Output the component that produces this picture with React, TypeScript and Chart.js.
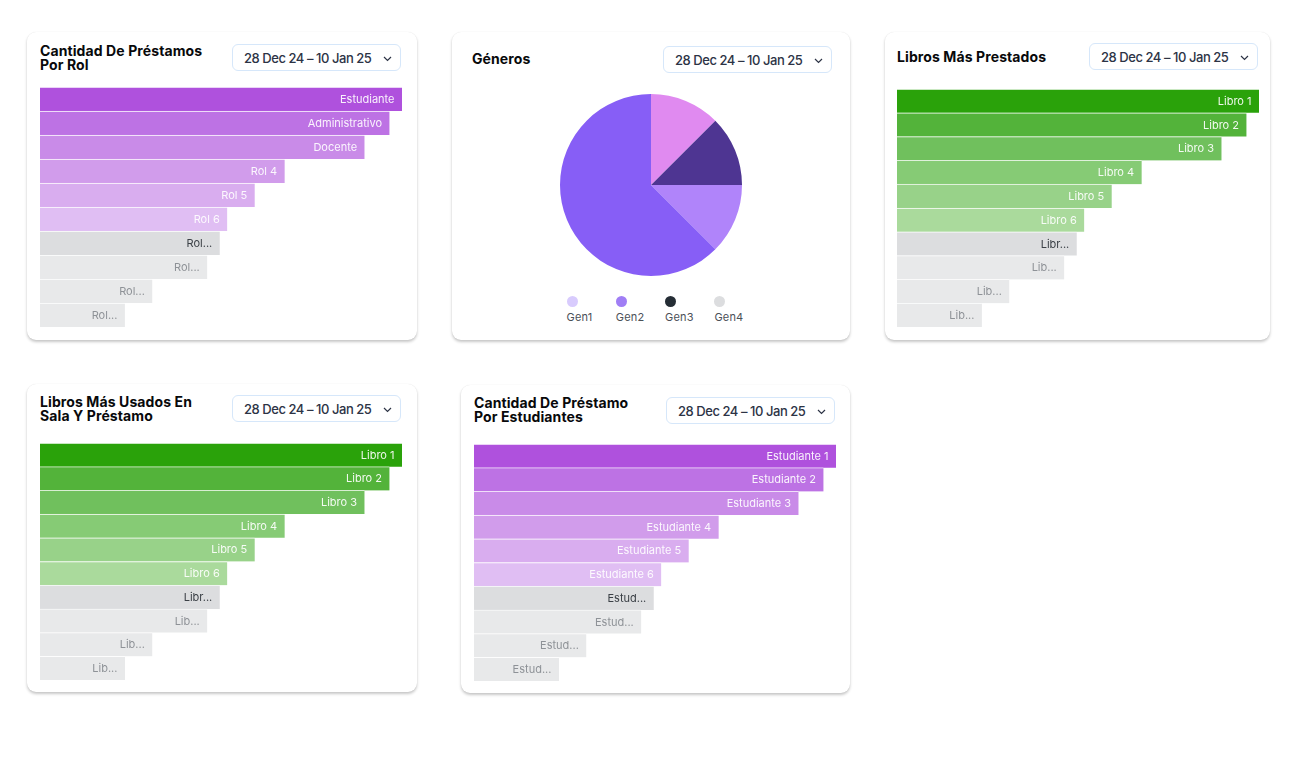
import React, { useEffect, useRef } from "react";
import { Chart, registerables } from "chart.js";

Chart.register(...registerables);

const DATE_RANGE = "28 Dec 24 – 10 Jan 25";

// Cantidad De Préstamos Por Rol
const rolLabels = ["Estudiante", "Administrativo", "Docente", "Rol 4", "Rol 5", "Rol 6", "Rol...", "Rol...", "Rol...", "Rol..."];
const rolValues = [145, 140, 130, 98, 86, 75, 72, 67, 45, 34];

// Libros Más Prestados
const prestadosLabels = ["Libro 1", "Libro 2", "Libro 3", "Libro 4", "Libro 5", "Libro 6", "Libr...", "Lib...", "Lib...", "Lib..."];
const prestadosValues = [145, 140, 130, 98, 86, 75, 72, 67, 45, 34];

// Libros Más Usados En Sala Y Préstamo
const salaLabels = ["Libro 1", "Libro 2", "Libro 3", "Libro 4", "Libro 5", "Libro 6", "Libr...", "Lib...", "Lib...", "Lib..."];
const salaValues = [145, 140, 130, 98, 86, 75, 72, 67, 45, 34];

// Cantidad De Préstamo Por Estudiantes
const estudiantesLabels = ["Estudiante 1", "Estudiante 2", "Estudiante 3", "Estudiante 4", "Estudiante 5", "Estudiante 6", "Estud...", "Estud...", "Estud...", "Estud..."];
const estudiantesValues = [145, 140, 130, 98, 86, 75, 72, 67, 45, 34];

// Géneros
const generoLabels = ["Gen1", "Gen2", "Gen3", "Gen4"];
const generoValues = [10, 10, 10, 50];
const generoSliceColors = ["#E08AF0", "#4E3592", "#B084FA", "#875EF6"];
const generoLegendColors = ["#D8CBFD", "#A07EF5", "#252D35", "#DCDDDF"];

const purpleColors = ["#AF51DD", "#BD72E4", "#C98BE8", "#D19CEB", "#D9ADEF", "#E0BEF3", "#DCDDDF", "#E8E9EA", "#E8E9EA", "#E8E9EA"];
const greenColors = ["#2AA20A", "#53B33A", "#70C05D", "#86CB75", "#98D289", "#AADA9C", "#DCDDDF", "#E8E9EA", "#E8E9EA", "#E8E9EA"];
const labelColors = [
  "rgba(255,255,255,0.92)", "rgba(255,255,255,0.92)", "rgba(255,255,255,0.92)",
  "rgba(255,255,255,0.92)", "rgba(255,255,255,0.92)", "rgba(255,255,255,0.92)",
  "#3B4046", "#8E9297", "#8E9297", "#8E9297",
];

const FONT = "Inter, 'Noto Sans', sans-serif";

function HBar(props: { labels: string[]; values: number[]; colors: string[]; left: number; top: number; width: number; height: number }) {
  const ref = useRef<HTMLCanvasElement | null>(null);
  useEffect(() => {
    const max = Math.max(...props.values);
    const labelPlugin = {
      id: "barLabels",
      afterDatasetsDraw(chart: any) {
        const ctx = chart.ctx;
        const meta = chart.getDatasetMeta(0);
        ctx.save();
        ctx.font = "11px " + FONT;
        ctx.textAlign = "right";
        ctx.textBaseline = "middle";
        meta.data.forEach((bar: any, i: number) => {
          ctx.fillStyle = labelColors[i];
          ctx.fillText(String(chart.data.labels[i]), bar.x - 7.5, bar.y + 0.5);
        });
        ctx.restore();
      },
    };
    const chart = new Chart(ref.current as HTMLCanvasElement, {
      type: "bar",
      data: {
        labels: props.labels,
        datasets: [
          {
            data: props.values,
            backgroundColor: props.colors,
            borderColor: "rgba(255,255,255,0.4)",
            borderWidth: { top: 1, right: 0, bottom: 0, left: 0 },
            borderSkipped: false,
            categoryPercentage: 1,
            barPercentage: 1,
          } as any,
        ],
      },
      options: {
        indexAxis: "y",
        animation: false,
        responsive: false,
        layout: { padding: 0 },
        plugins: { legend: { display: false }, tooltip: { enabled: false } },
        scales: {
          x: { display: false, min: 0, max },
          y: { display: false },
        },
      },
      plugins: [labelPlugin],
    });
    return () => chart.destroy();
  }, []);
  return (
    <canvas
      ref={ref}
      width={props.width}
      height={props.height}
      style={{ position: "absolute", left: props.left, top: props.top, width: props.width, height: props.height }}
    />
  );
}

function Pie(props: { left: number; top: number; size: number }) {
  const ref = useRef<HTMLCanvasElement | null>(null);
  useEffect(() => {
    const chart = new Chart(ref.current as HTMLCanvasElement, {
      type: "pie",
      data: {
        labels: generoLabels,
        datasets: [{ data: generoValues, backgroundColor: generoSliceColors, borderWidth: 0 }],
      },
      options: {
        animation: false,
        responsive: false,
        layout: { padding: 0 },
        plugins: { legend: { display: false }, tooltip: { enabled: false } },
      },
    });
    return () => chart.destroy();
  }, []);
  return (
    <canvas
      ref={ref}
      width={props.size}
      height={props.size}
      style={{ position: "absolute", left: props.left, top: props.top, width: props.size, height: props.size }}
    />
  );
}

function Card(props: { left: number; top: number; width: number; height: number }) {
  return (
    <div
      style={{
        position: "absolute",
        left: props.left,
        top: props.top,
        width: props.width,
        height: props.height,
        background: "#fff",
        borderRadius: 9,
        boxShadow: "0 2px 3px rgba(0,0,0,0.22), 0 0 1px rgba(0,0,0,0.10)",
      }}
    />
  );
}

function Title(props: { left: number; top: number; lines: string[] }) {
  return (
    <div
      style={{
        position: "absolute",
        left: props.left,
        top: props.top,
        fontFamily: FONT,
        fontWeight: 700,
        fontSize: 14,
        lineHeight: "14px",
        color: "#08090B",
        letterSpacing: "0.1px",
        whiteSpace: "nowrap",
      }}
    >
      {props.lines.map((l, i) => (
        <div key={i}>{l}</div>
      ))}
    </div>
  );
}

function Picker(props: { left: number; top: number }) {
  return (
    <div
      style={{
        position: "absolute",
        left: props.left,
        top: props.top,
        width: 169,
        height: 27,
        boxSizing: "border-box",
        border: "1.5px solid #D6E7FA",
        borderRadius: 6,
        background: "#fff",
        fontFamily: FONT,
        fontWeight: 500,
        fontSize: 13,
        color: "#2C3345",
        display: "flex",
        alignItems: "center",
        paddingLeft: 11,
        whiteSpace: "nowrap",
      }}
    >
      <span style={{ letterSpacing: "-0.45px" }}>{DATE_RANGE}</span>
      <svg width="9" height="6" style={{ position: "absolute", right: 8, top: 11 }}>
        <polyline points="1,1 4.5,4.5 8,1" fill="none" stroke="#2C3345" strokeWidth="1.2" />
      </svg>
    </div>
  );
}

function Legend(props: { left: number; top: number }) {
  return (
    <>
      {generoLabels.map((l, i) => {
        const cx = props.left + i * 49.3;
        return (
          <React.Fragment key={l}>
            <div
              style={{
                position: "absolute",
                left: cx - 5.5,
                top: props.top - 5.5,
                width: 11,
                height: 11,
                borderRadius: "50%",
                background: generoLegendColors[i],
              }}
            />
            <div
              style={{
                position: "absolute",
                left: cx - 5.5,
                top: props.top + 9,
                fontFamily: FONT,
                fontSize: 11,
                lineHeight: "14px",
                color: "#4B5057",
                letterSpacing: "0.2px",
              }}
            >
              {l}
            </div>
          </React.Fragment>
        );
      })}
    </>
  );
}

export default function App() {
  return (
    <div style={{ position: "absolute", left: 0, top: 0, width: 1308, height: 760, background: "#fff", overflow: "hidden" }}>
      <Card left={27} top={32} width={390} height={308} />
      <Card left={452} top={32} width={398} height={308} />
      <Card left={885} top={32} width={385} height={308} />
      <Card left={27} top={384} width={390} height={308} />
      <Card left={461} top={385} width={389} height={308} />

      <Title left={40} top={43.5} lines={["Cantidad De Préstamos", "Por Rol"]} />
      <Picker left={232} top={44} />
      <HBar labels={rolLabels} values={rolValues} colors={purpleColors} left={40} top={87} width={362} height={240} />

      <Title left={472} top={52} lines={["Géneros"]} />
      <Picker left={663} top={46} />
      <Pie left={560} top={94} size={182} />
      <Legend left={572} top={301} />

      <Title left={897} top={50} lines={["Libros Más Prestados"]} />
      <Picker left={1089} top={43} />
      <HBar labels={prestadosLabels} values={prestadosValues} colors={greenColors} left={897} top={89} width={362} height={238} />

      <Title left={40} top={394.5} lines={["Libros Más Usados En", "Sala Y Préstamo"]} />
      <Picker left={232} top={395} />
      <HBar labels={salaLabels} values={salaValues} colors={greenColors} left={40} top={443} width={362} height={237} />

      <Title left={474} top={396} lines={["Cantidad De Préstamo", "Por Estudiantes"]} />
      <Picker left={666} top={397} />
      <HBar labels={estudiantesLabels} values={estudiantesValues} colors={purpleColors} left={474} top={444} width={362} height={237} />
    </div>
  );
}
